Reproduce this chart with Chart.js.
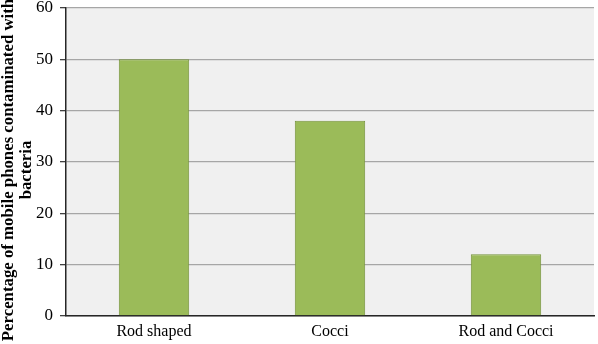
<!DOCTYPE html>
<html><head><meta charset="utf-8">
<script src="https://cdn.jsdelivr.net/npm/chart.js@4"></script>
<style>html,body{margin:0;padding:0;background:#fff}#wrap{width:598px;height:344px}</style>
</head><body><div id="wrap"><canvas id="c" width="598" height="344"></canvas></div>
<script>
const categories = ["Rod shaped", "Cocci", "Rod and Cocci"];
const values = [50, 38, 12];
const yTitle = ["Percentage of mobile phones contaminated with", "bacteria"];

const bgPlugin = {
  id: 'bg',
  beforeDraw(chart) {
    const {ctx, chartArea: a} = chart;
    ctx.save();
    ctx.fillStyle = '#F0F0F0';
    ctx.fillRect(a.left, a.top, a.right - a.left, a.bottom - a.top);
    ctx.restore();
  }
};

const yTitlePlugin = {
  id: 'ytitle',
  afterDraw(chart) {
    const ctx = chart.ctx;
    ctx.save();
    ctx.fillStyle = '#000';
    ctx.font = 'bold 16.8px "Liberation Serif"';
    ctx.textAlign = 'center';
    ctx.textBaseline = 'middle';
    const xs = [9, 27];
    yTitle.forEach((line, i) => {
      ctx.save();
      ctx.translate(xs[i], 170);
      ctx.rotate(-Math.PI / 2);
      ctx.fillText(line, 0, 0);
      ctx.restore();
    });
    ctx.restore();
  }
};

new Chart(document.getElementById('c'), {
  type: 'bar',
  data: {
    labels: categories,
    datasets: [{
      data: values,
      backgroundColor: '#9BBB59',
      borderColor: '#76933C',
      borderWidth: 1,
      categoryPercentage: 0.4,
      barPercentage: 1.0
    }]
  },
  options: {
    responsive: false,
    animation: false,
    layout: {padding: {top: 5, right: 4, bottom: 0, left: 0}},
    plugins: {legend: {display: false}, tooltip: {enabled: false}},
    scales: {
      x: {
        grid: {display: false, drawTicks: false},
        border: {display: true, color: '#262626', width: 1.5},
        ticks: {color: '#000', font: {family: 'Liberation Serif', size: 16}, padding: 6},
        afterFit(s) { s.height = 28; }
      },
      y: {
        min: 0, max: 60,
        ticks: {stepSize: 10, color: '#000', font: {family: 'Liberation Serif', size: 17, lineHeight: 0.1}, padding: 7},
        grid: {color: '#A6A6A6', lineWidth: 1.3, tickLength: 6, tickColor: '#404040'},
        border: {display: true, color: '#262626', width: 1.5},
        afterFit(s) { s.width = 66; }
      }
    }
  },
  plugins: [bgPlugin, yTitlePlugin]
});
</script></body></html>
